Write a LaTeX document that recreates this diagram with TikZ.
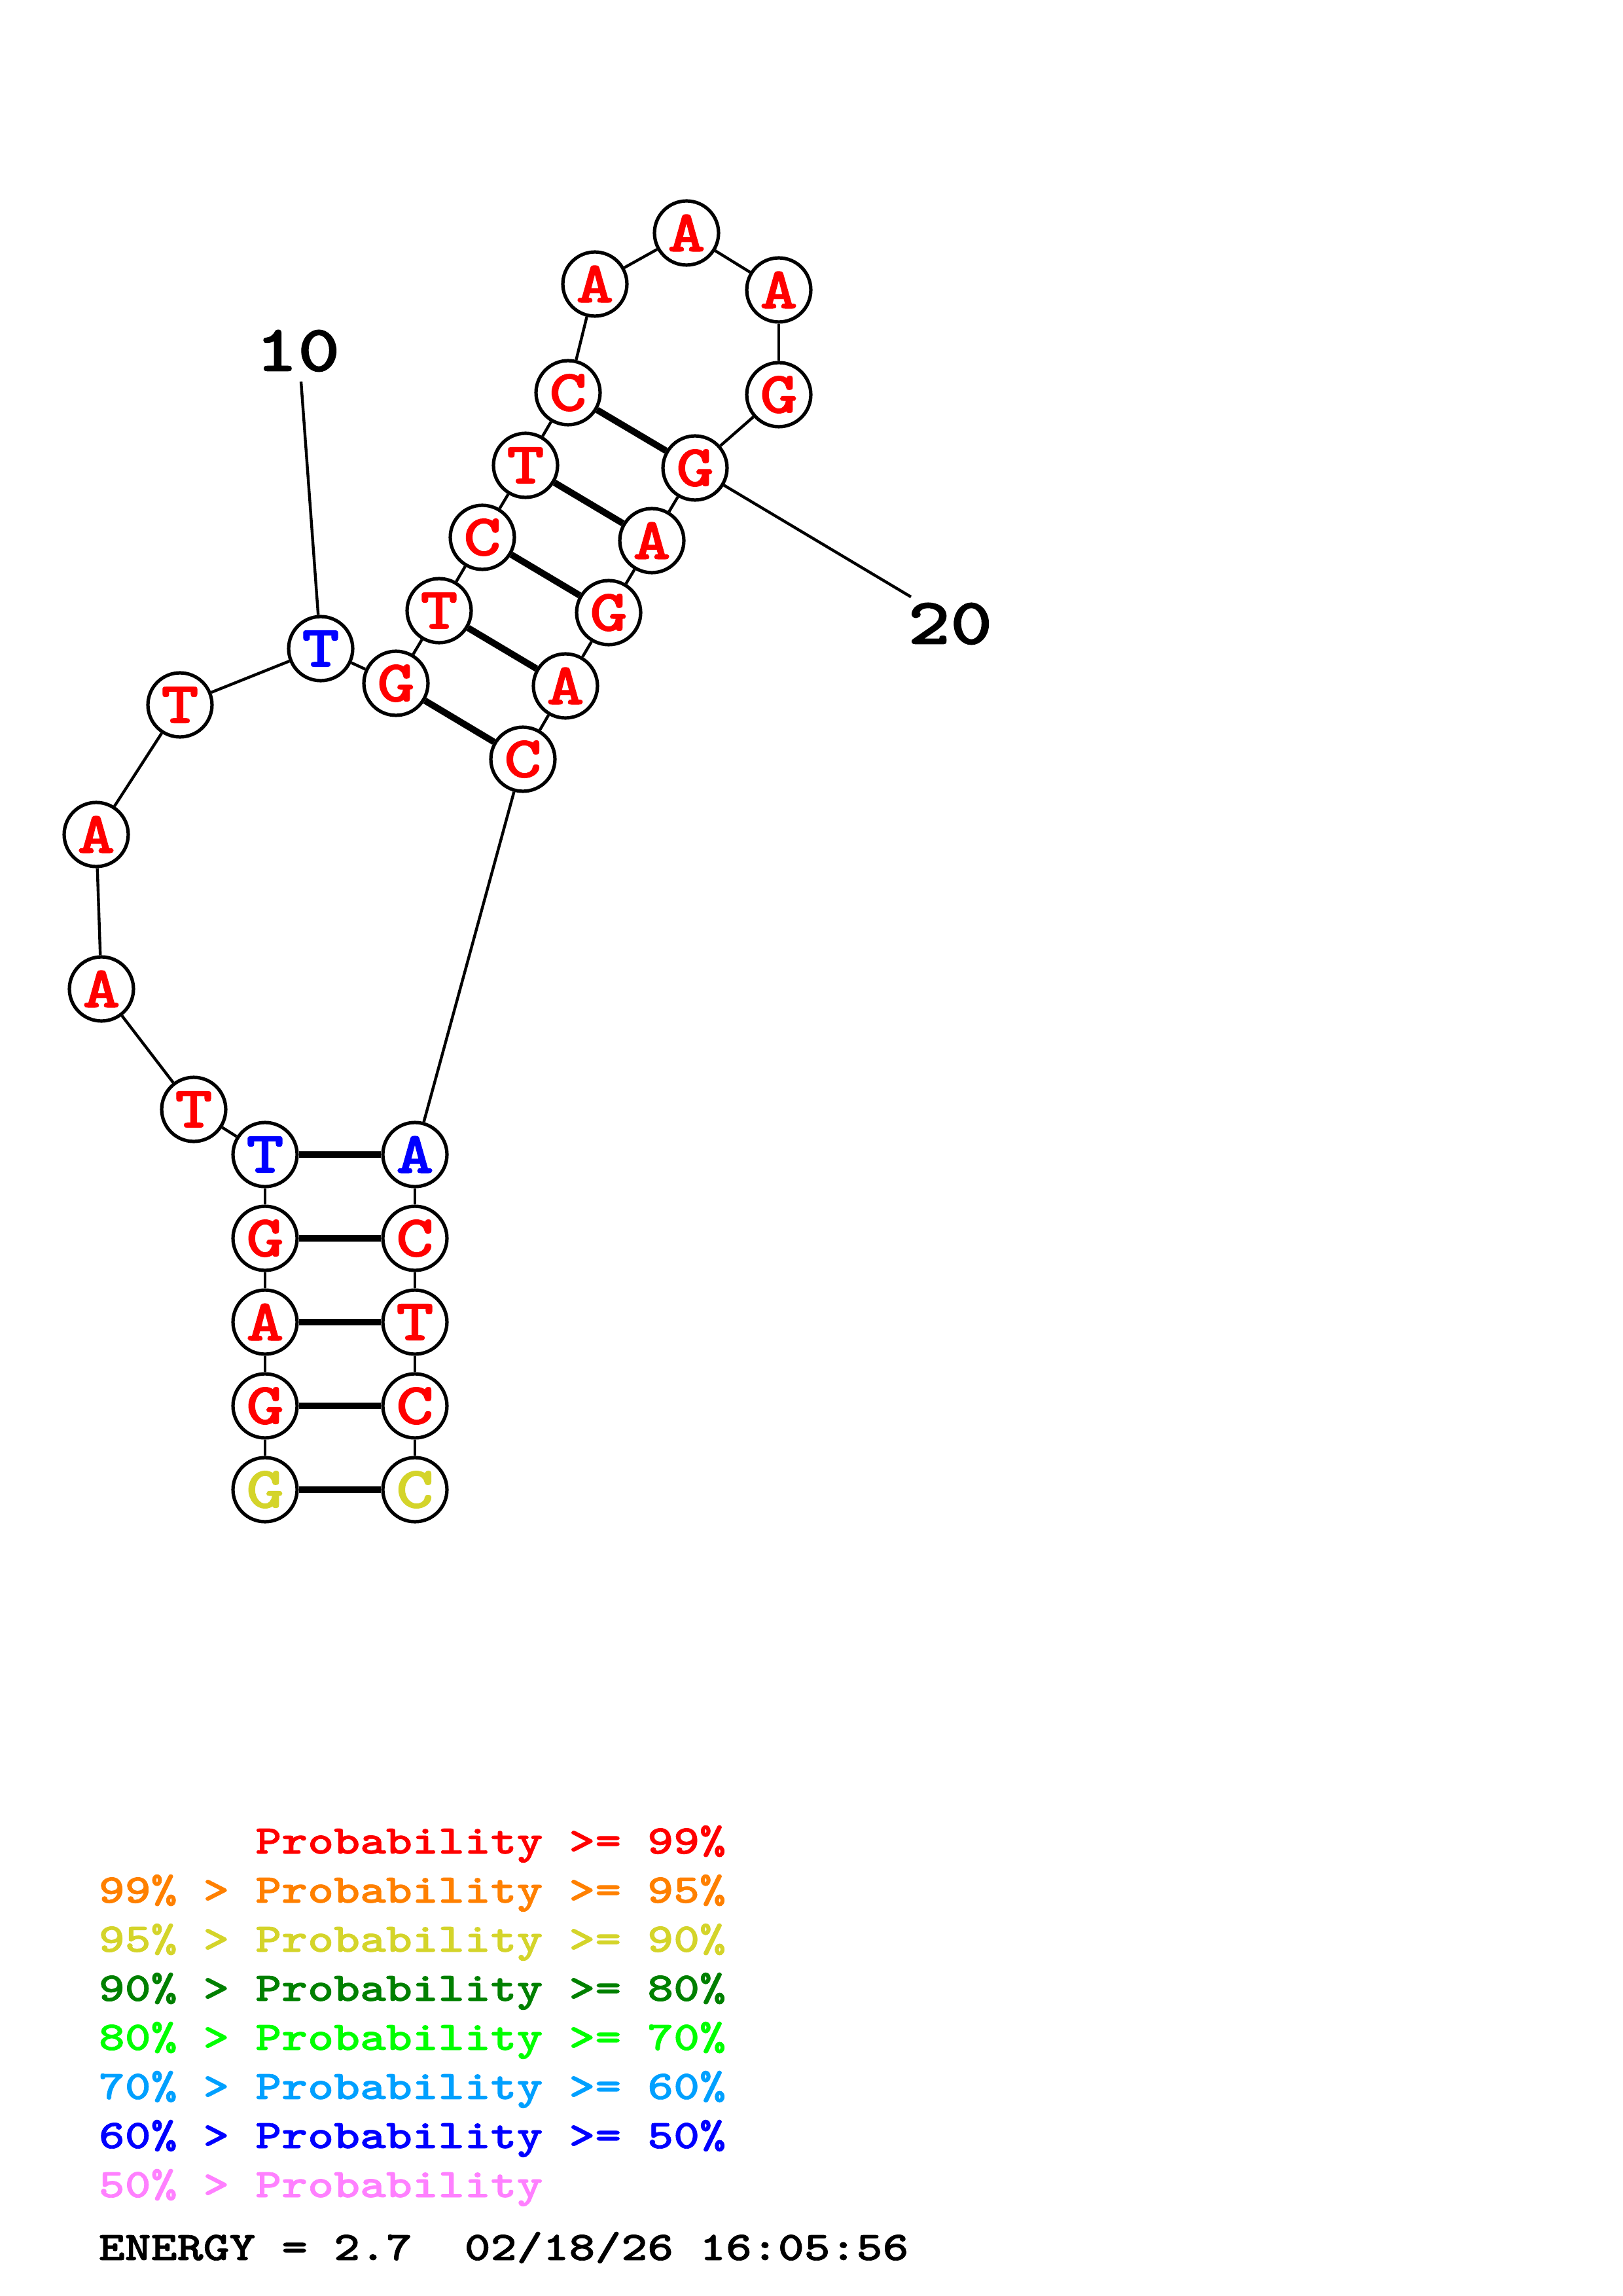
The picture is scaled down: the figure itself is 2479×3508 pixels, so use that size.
\documentclass[tikz,border=0pt]{standalone}
\usepackage{fontspec}
\newfontfamily\cour{lmmonolt10-bold.otf}[FakeStretch=1.22,FakeBold=1.2]
\newfontfamily\courleg{lmmonolt10-bold.otf}[FakeStretch=1.225,FakeBold=1.2]
\definecolor{pred}{RGB}{255,0,0}
\definecolor{porange}{RGB}{255,128,0}
\definecolor{pyellow}{RGB}{212,212,42}
\definecolor{pdgreen}{RGB}{0,128,0}
\definecolor{pgreen}{RGB}{0,255,0}
\definecolor{psky}{RGB}{0,160,255}
\definecolor{pblue}{RGB}{0,0,255}
\definecolor{ppink}{RGB}{255,128,255}
\begin{document}
\begin{tikzpicture}[x=0.24pt,y=-0.24pt,
  nt/.style={circle,draw=black,line width=1.25pt,fill=white,minimum size=23.5pt,inner sep=0pt,
    font=\cour\fontsize{21.6}{22}\selectfont},
  bb/.style={line width=1.05pt},
  bp/.style={line width=2.4pt},
  leg/.style={anchor=base west,inner sep=0pt,font=\courleg\fontsize{14.9}{15}\selectfont},
  lab/.style={inner sep=0pt,font=\cour\fontsize{24.2}{25}\selectfont}]
\fill[white] (0,0) rectangle (2479,3508);
\useasboundingbox (0,0) rectangle (2479,3508);
% nucleotides
\node[nt,text=pyellow] (n1)  at (405,2276) {G};
\node[nt,text=pred]    (n2)  at (405,2148) {G};
\node[nt,text=pred]    (n3)  at (405,2020) {A};
\node[nt,text=pred]    (n4)  at (405,1892) {G};
\node[nt,text=pblue]   (n5)  at (405,1764) {T};
\node[nt,text=pred]    (n6)  at (296,1695) {T};
\node[nt,text=pred]    (n7)  at (155,1511) {A};
\node[nt,text=pred]    (n8)  at (147,1275) {A};
\node[nt,text=pred]    (n9)  at (275,1077) {T};
\node[nt,text=pblue]   (n10) at (490,991)  {T};
\node[nt,text=pred]    (n11) at (605,1044) {G};
\node[nt,text=pred]    (n12) at (671,933)  {T};
\node[nt,text=pred]    (n13) at (737,821)  {C};
\node[nt,text=pred]    (n14) at (803,711)  {T};
\node[nt,text=pred]    (n15) at (868,600)  {C};
\node[nt,text=pred]    (n16) at (909,434)  {A};
\node[nt,text=pred]    (n17) at (1049,356) {A};
\node[nt,text=pred]    (n18) at (1190,443) {A};
\node[nt,text=pred]    (n19) at (1190,603) {G};
\node[nt,text=pred]    (n20) at (1062,715) {G};
\node[nt,text=pred]    (n21) at (996,826)  {A};
\node[nt,text=pred]    (n22) at (930,936)  {G};
\node[nt,text=pred]    (n23) at (864,1048) {A};
\node[nt,text=pred]    (n24) at (799,1160) {C};
\node[nt,text=pblue]   (n25) at (634,1764) {A};
\node[nt,text=pred]    (n26) at (634,1892) {C};
\node[nt,text=pred]    (n27) at (634,2020) {T};
\node[nt,text=pred]    (n28) at (634,2148) {C};
\node[nt,text=pyellow] (n29) at (634,2276) {C};
% backbone
\foreach \a/\b in {1/2,2/3,3/4,4/5,5/6,6/7,7/8,8/9,9/10,10/11,11/12,12/13,13/14,14/15,15/16,16/17,17/18,18/19,19/20,20/21,21/22,22/23,23/24,24/25,25/26,26/27,27/28,28/29}
  \draw[bb] (n\a) -- (n\b);
% pairs
\foreach \a/\b in {1/29,2/28,3/27,4/26,5/25,11/24,12/23,13/22,14/21,15/20}
  \draw[bp] (n\a) -- (n\b);
% numbering
\node[lab] (t10) at (455,536) {10};
\coordinate (l10) at (460,583);
\draw[bb] (l10) -- (n10);
\node[lab] (t20) at (1452,953) {20};
\coordinate (l20) at (1392,912);
\draw[bb] (n20) -- (l20);
% legend
\node[leg,text=pred]    (g1) at (150,2832) {\phantom{99\% > }Probability >= 99\%};
\node[leg,text=porange] (g2) at (150,2907) {99\% > Probability >= 95\%};
\node[leg,text=pyellow] (g3) at (150,2982) {95\% > Probability >= 90\%};
\node[leg,text=pdgreen] (g4) at (150,3057) {90\% > Probability >= 80\%};
\node[leg,text=pgreen]  (g5) at (150,3132) {80\% > Probability >= 70\%};
\node[leg,text=psky]    (g6) at (150,3207) {70\% > Probability >= 60\%};
\node[leg,text=pblue]   (g7) at (150,3282) {60\% > Probability >= 50\%};
\node[leg,text=ppink]   (g8) at (150,3357) {50\% > Probability};
\node[leg,text=black]   (en) at (150,3453) {ENERGY = 2.7\ \ 02/18/26 16:05:56};
\end{tikzpicture}
\end{document}
